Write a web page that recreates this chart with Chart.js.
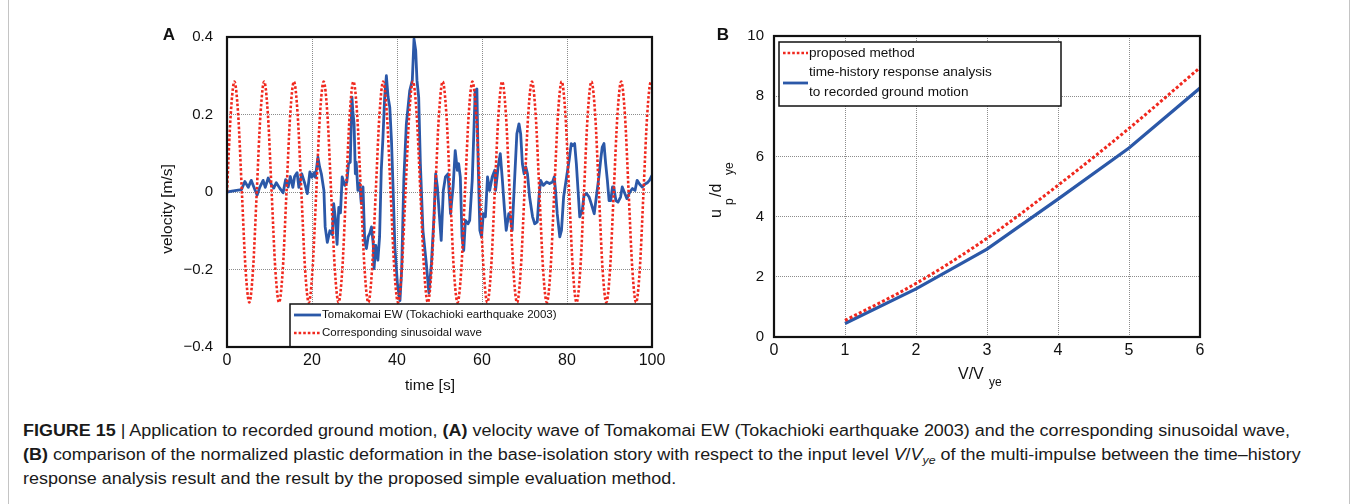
<!DOCTYPE html>
<html>
<head>
<meta charset="utf-8">
<script src="https://cdn.jsdelivr.net/npm/chart.js@4.4.1/dist/chart.umd.min.js"></script>
<style>
  body { margin: 0; background: #fff; width: 1357px; height: 504px; overflow: hidden; position: relative;
         font-family: 'Liberation Sans', Arial, sans-serif; }
  #frame { position: absolute; left: 8px; top: -20px; width: 1340px; height: 600px; border: 1px solid #c4c4c4; border-radius: 6px; }
  #chartA { position: absolute; left: 140px; top: 20px; }
  #chartB { position: absolute; left: 700px; top: 20px; }
  #caption { position: absolute; left: 23px; top: 419px; font-size: 16px; line-height: 24px; color: #1a1a1a;
             white-space: nowrap; transform-origin: 0 0; }
  #caption sub { font-size: 11px; line-height: 0; }
</style>
</head>
<body>
<div id="frame"></div>
<canvas id="chartA" width="525" height="380"></canvas>
<canvas id="chartB" width="520" height="380"></canvas>
<div id="caption">
  <div id="capLine1"><b>FIGURE 15</b> | Application to recorded ground motion, <b>(A)</b> velocity wave of Tomakomai EW (Tokachioki earthquake 2003) and the corresponding sinusoidal wave,</div>
  <div><b>(B)</b> comparison of the normalized plastic deformation in the base-isolation story with respect to the input level <i>V</i>/<i>V<sub>ye</sub></i> of the multi-impulse between the time–history</div>
  <div>response analysis result and the result by the proposed simple evaluation method.</div>
</div>
<script>
// Tomakomai EW velocity record, time [s] / velocity [m/s]
const recTime = [
  0, 1.5, 3.4, 4.2, 5.0, 5.7, 6.5, 7.1, 7.7, 8.5, 9.0, 9.7, 10.4, 11.0, 11.6, 12.4, 13.2, 13.8, 14.4, 14.9,
  15.5, 15.9, 16.5, 16.9, 17.6, 18.3, 18.9, 19.5, 20.0, 20.5, 20.8, 21.4, 21.8, 22.2, 22.8, 23.1, 23.6, 24.2,
  24.8, 25.1, 25.5, 25.9, 26.3, 26.7, 27.1, 27.7, 28.2, 28.6, 29.0, 29.4, 29.6, 29.9, 30.2, 30.4, 30.8, 31.2,
  31.6, 32.0, 32.4, 32.8, 33.2, 33.6, 34.0, 34.4, 34.6, 35.0, 35.5, 35.9, 36.3, 36.7, 37.1, 37.5, 37.9, 38.3,
  38.7, 39.1, 39.5, 40.1, 40.7, 41.1, 41.6, 42.2, 43.0, 43.6, 44.0, 44.4, 44.7, 45.1, 45.5, 46.1, 46.9, 47.5,
  48.1, 48.7, 49.1, 49.5, 50.0, 50.4, 50.9, 51.4, 52.0, 52.6, 53.2, 53.7, 54.2, 54.5, 54.9, 55.3, 55.7, 56.1,
  56.7, 57.1, 57.7, 58.1, 58.4, 58.8, 59.1, 59.5, 59.9, 60.3, 60.8, 61.3, 61.8, 62.4, 63.0, 63.2, 63.8, 64.3,
  64.8, 65.3, 65.7, 66.3, 66.7, 67.1, 67.7, 68.2, 68.7, 69.1, 69.5, 69.9, 70.3, 70.7, 71.2, 71.9, 72.4, 73.0,
  73.4, 73.8, 74.4, 75.2, 75.9, 76.6, 77.0, 77.3, 77.7, 78.3, 78.7, 79.2, 79.9, 80.5, 81.0, 81.4, 81.8, 82.2,
  82.6, 83.0, 83.6, 84.0, 84.6, 85.2, 85.7, 86.4, 86.9, 87.5, 88.0, 88.3, 88.7, 89.1, 89.5, 89.9, 90.3, 90.7,
  91.0, 91.5, 92.0, 92.6, 93.0, 93.6, 94.1, 94.8, 95.4, 96.0, 96.5, 97.1, 97.7, 98.3, 98.9, 99.4, 100
];
const recVel = [
  0, 0.003, 0.006, 0.027, 0.012, 0.03, 0.008, -0.008, 0.012, 0.03, 0.012, 0.036, 0.02, 0.01, 0.024, 0.01, -0.002, 0.032, 0.013, 0.04,
  0.012, 0.04, 0.05, 0.012, 0.047, 0.022, -0.004, 0.052, 0.038, 0.05, 0.038, 0.09, 0.064, 0.047, 0.004, -0.09, -0.13, -0.1,
  -0.11, -0.03, -0.068, -0.135, -0.04, -0.054, 0.039, 0.017, 0.026, 0.073, 0.077, 0.245, 0.21, 0.176, 0.047, 0.077, 0.004, 0.022,
  -0.03, 0.013, -0.125, -0.146, -0.116, -0.107, -0.09, -0.133, -0.198, -0.138, -0.176, -0.116, 0.056, 0.142, 0.245, 0.3, 0.245, 0.219,
  0.133, 0.004, -0.142, -0.237, -0.28, -0.2, 0.03, 0.176, 0.262, 0.288, 0.395, 0.365, 0.288, 0.245, 0.073, -0.099, -0.185, -0.26,
  -0.185, -0.064, 0.047, 0.013, -0.064, -0.125, 0.004, 0.039, 0.047, -0.056, 0.013, 0.107, 0.056, 0.073, 0.039, -0.116, -0.151, -0.073,
  -0.082, -0.073, 0.03, 0.159, 0.262, 0.266, 0.073, -0.099, -0.116, -0.056, -0.064, 0.039, 0.004, 0.039, 0.056, 0.004, 0.065, 0.099,
  0.03, -0.047, -0.099, -0.056, -0.064, -0.099, 0.039, 0.15, 0.176, 0.15, 0.073, 0.047, 0.065, 0.047, -0.013, -0.064, -0.082, -0.077,
  -0.013, 0.03, 0.017, 0.026, 0.022, 0.026, 0.039, 0.004, -0.056, -0.116, -0.099, -0.013, 0.039, 0.082, 0.125, 0.12, 0.125, 0.073,
  0.004, -0.064, -0.047, -0.009, -0.004, -0.013, -0.03, -0.056, -0.013, 0.039, 0.09, 0.116, 0.125, 0.073, 0.03, -0.022, -0.022, 0.013,
  0.013, -0.022, -0.026, -0.013, 0.013, -0.004, -0.017, 0, 0.009, 0.004, 0.03, 0.02, 0.013, 0.02, 0.024, 0.03, 0.043
];

// corresponding sinusoidal wave, read every eighth of a cycle
const sineTime = [
  0, 0.875, 1.75, 2.625, 3.5, 4.375, 5.25, 6.125,
  7, 7.875, 8.75, 9.625, 10.5, 11.375, 12.25, 13.125,
  14, 14.875, 15.75, 16.625, 17.5, 18.375, 19.25, 20.125,
  21, 21.875, 22.75, 23.625, 24.5, 25.375, 26.25, 27.125,
  28, 28.875, 29.75, 30.625, 31.5, 32.375, 33.25, 34.125,
  35, 35.875, 36.75, 37.625, 38.5, 39.375, 40.25, 41.125,
  42, 42.875, 43.75, 44.625, 45.5, 46.375, 47.25, 48.125,
  49, 49.875, 50.75, 51.625, 52.5, 53.375, 54.25, 55.125,
  56, 56.875, 57.75, 58.625, 59.5, 60.375, 61.25, 62.125,
  63, 63.875, 64.75, 65.625, 66.5, 67.375, 68.25, 69.125,
  70, 70.875, 71.75, 72.625, 73.5, 74.375, 75.25, 76.125,
  77, 77.875, 78.75, 79.625, 80.5, 81.375, 82.25, 83.125,
  84, 84.875, 85.75, 86.625, 87.5, 88.375, 89.25, 90.125,
  91, 91.875, 92.75, 93.625, 94.5, 95.375, 96.25, 97.125,
  98, 98.875, 99.75, 100
];
const sineVel = [
  0, 0.2, 0.285, 0.2, 0, -0.2, -0.285, -0.2,
  0, 0.2, 0.285, 0.2, 0, -0.2, -0.285, -0.2,
  0, 0.2, 0.285, 0.2, 0, -0.2, -0.285, -0.2,
  0, 0.2, 0.285, 0.2, 0, -0.2, -0.285, -0.2,
  0, 0.2, 0.285, 0.2, 0, -0.2, -0.285, -0.2,
  0, 0.2, 0.285, 0.2, 0, -0.2, -0.285, -0.2,
  0, 0.2, 0.285, 0.2, 0, -0.2, -0.285, -0.2,
  0, 0.2, 0.285, 0.2, 0, -0.2, -0.285, -0.2,
  0, 0.2, 0.285, 0.2, 0, -0.2, -0.285, -0.2,
  0, 0.2, 0.285, 0.2, 0, -0.2, -0.285, -0.2,
  0, 0.2, 0.285, 0.2, 0, -0.2, -0.285, -0.2,
  0, 0.2, 0.285, 0.2, 0, -0.2, -0.285, -0.2,
  0, 0.2, 0.285, 0.2, 0, -0.2, -0.285, -0.2,
  0, 0.2, 0.285, 0.2, 0, -0.2, -0.285, -0.2,
  0, 0.2, 0.285, 0.278
];

// normalized plastic deformation u_p/d_ye against input level V/V_ye
const inputLevel = [1, 2, 3, 4, 5, 6];
const proposedDef = [0.55, 1.78, 3.28, 5.04, 6.93, 8.95];
const analysisDef = [0.45, 1.6, 2.92, 4.58, 6.28, 8.27];

const legendA = ['Tomakomai EW (Tokachioki earthquake 2003)', 'Corresponding sinusoidal wave'];
const legendB = ['proposed method', 'time-history response analysis', 'to recorded ground motion'];

const FONT = "'Liberation Sans', Arial, sans-serif";
const RED = '#f0281e';
const BLUE = '#2b58a8';
const GRID = '#8c8c8c';

function toPoints(xs, ys) {
  return xs.map((x, i) => ({ x: x, y: ys[i] }));
}

function minusFmt(v) {
  if (Math.abs(v) < 1e-9) return '0';
  return (v < 0 ? '\u2212' : '') + Math.abs(v).toFixed(1);
}

// inner grid only, the frame is drawn by the plugin
function gridColor(lo, hi) {
  return ctx => (Math.abs(ctx.tick.value - lo) < 1e-9 || Math.abs(ctx.tick.value - hi) < 1e-9) ? 'rgba(0,0,0,0)' : GRID;
}

// fixed axis size and no extra room for overhanging labels,
// so the plot area is set by the layout padding alone
function fixedFit(prop, size) {
  return s => {
    s[prop] = size;
    s.paddingTop = s.paddingBottom = s.paddingLeft = s.paddingRight = 0;
  };
}

function scaleOpts(min, max, step, pad, size, fit, fmt) {
  return {
    type: 'linear', min: min, max: max,
    ticks: { stepSize: step, padding: pad, color: '#111', font: { family: FONT, size: size }, maxRotation: 0,
             callback: fmt || (v => String(v)) },
    grid: { color: gridColor(min, max), lineWidth: 1, drawTicks: false },
    border: { display: false, dash: [1, 1] },
    afterFit: fit
  };
}

function lineSample(ctx, x0, x1, y, color, dotted) {
  ctx.save();
  ctx.strokeStyle = color;
  ctx.lineWidth = dotted ? 2.6 : 2.8;
  ctx.setLineDash(dotted ? [2.6, 2] : []);
  ctx.beginPath();
  ctx.moveTo(x0, y);
  ctx.lineTo(x1, y);
  ctx.stroke();
  ctx.restore();
}

// frame, legend box and axis titles
function decorPlugin(drawExtras) {
  return {
    id: 'decor',
    afterDatasetsDraw(chart) {
      const ctx = chart.ctx, a = chart.chartArea;
      ctx.save();
      drawExtras(ctx, a);
      ctx.strokeStyle = '#111';
      ctx.lineWidth = 2.2;
      ctx.strokeRect(a.left, a.top, a.right - a.left, a.bottom - a.top);
      ctx.restore();
    }
  };
}

const chartA = new Chart(document.getElementById('chartA'), {
  type: 'line',
  data: {
    datasets: [{
      data: toPoints(sineTime, sineVel),
      borderColor: RED, borderWidth: 2.6, borderDash: [2.6, 2],
      pointRadius: 0, cubicInterpolationMode: 'monotone'
    }, {
      data: toPoints(recTime, recVel),
      borderColor: BLUE, borderWidth: 2.8, pointRadius: 0, tension: 0,
      borderJoinStyle: 'round'
    }]
  },
  options: {
    responsive: false, animation: false, events: [],
    layout: { padding: { top: 17, right: 13, left: 0, bottom: 0 } },
    scales: {
      x: scaleOpts(0, 100, 20, 4, 16, fixedFit('height', 53)),
      y: scaleOpts(-0.4, 0.4, 0.2, 14, 15, fixedFit('width', 87), minusFmt)
    },
    plugins: { legend: { display: false }, tooltip: { enabled: false } }
  },
  plugins: [decorPlugin((ctx, a) => {
    // legend box in the lower right corner
    const bx = 150, by = 284;
    ctx.fillStyle = '#fff';
    ctx.fillRect(bx, by, a.right - bx, a.bottom - by);
    ctx.strokeStyle = '#111';
    ctx.lineWidth = 1.5;
    ctx.strokeRect(bx, by, a.right - bx, a.bottom - by);
    lineSample(ctx, 154, 181, 295, BLUE, false);
    lineSample(ctx, 154, 181, 313, RED, true);
    ctx.fillStyle = '#111';
    ctx.font = '11.5px ' + FONT;
    ctx.textBaseline = 'middle';
    ctx.textAlign = 'left';
    ctx.fillText(legendA[0], 182, 295);
    ctx.fillText(legendA[1], 182, 313);

    ctx.font = 'bold 17px ' + FONT;
    ctx.textAlign = 'center';
    ctx.fillText('A', 29, 15);

    ctx.font = '15.5px ' + FONT;
    ctx.fillText('time [s]', 290, 366);
    ctx.save();
    ctx.translate(28, 189);
    ctx.rotate(-Math.PI / 2);
    ctx.fillText('velocity [m/s]', 0, 0);
    ctx.restore();
  })]
});

const chartB = new Chart(document.getElementById('chartB'), {
  type: 'line',
  data: {
    datasets: [{
      data: toPoints(inputLevel, proposedDef),
      borderColor: RED, borderWidth: 3, borderDash: [3, 2.2],
      pointRadius: 0, cubicInterpolationMode: 'monotone'
    }, {
      data: toPoints(inputLevel, analysisDef),
      borderColor: BLUE, borderWidth: 3.2, pointRadius: 0, tension: 0
    }]
  },
  options: {
    responsive: false, animation: false, events: [],
    layout: { padding: { top: 16, right: 20, left: 0, bottom: 0 } },
    scales: {
      x: scaleOpts(0, 6, 1, 4, 16, fixedFit('height', 63)),
      y: scaleOpts(0, 10, 2, 10, 15, fixedFit('width', 74))
    },
    plugins: { legend: { display: false }, tooltip: { enabled: false } }
  },
  plugins: [decorPlugin((ctx, a) => {
    const bx = 79, by = 22, bw = 282, bh = 64;
    ctx.fillStyle = '#fff';
    ctx.fillRect(bx, by, bw, bh);
    ctx.strokeStyle = '#111';
    ctx.lineWidth = 1.5;
    ctx.strokeRect(bx, by, bw, bh);
    lineSample(ctx, 83, 108, 33, RED, true);
    lineSample(ctx, 83, 108, 63, BLUE, false);
    ctx.fillStyle = '#111';
    ctx.font = '13.6px ' + FONT;
    ctx.textBaseline = 'middle';
    ctx.textAlign = 'left';
    ctx.fillText(legendB[0], 109, 33);
    ctx.fillText(legendB[1], 109, 52);
    ctx.fillText(legendB[2], 109, 72);

    ctx.font = 'bold 17px ' + FONT;
    ctx.textAlign = 'center';
    ctx.fillText('B', 23, 15);

    // V/V_ye
    ctx.textAlign = 'left';
    ctx.font = '16px ' + FONT;
    ctx.fillText('V/V', 258, 355);
    ctx.font = '12px ' + FONT;
    ctx.fillText('ye', 289, 363);

    // u_p/d_ye, rotated
    ctx.save();
    ctx.translate(21, 198);
    ctx.rotate(-Math.PI / 2);
    ctx.textBaseline = 'alphabetic';
    ctx.font = '16px ' + FONT;
    ctx.fillText('u', 0, 0);
    ctx.fillText('/d', 21, 0);
    ctx.font = '12px ' + FONT;
    ctx.fillText('p', 13, 12);
    ctx.fillText('ye', 43, 12);
    ctx.restore();
  })]
});

// stretch the caption so the first line spans the same width as the figure text block
const cap = document.getElementById('caption');
const line1 = document.getElementById('capLine1');
const range = document.createRange();
range.selectNodeContents(line1);
const w = range.getBoundingClientRect().width;
cap.style.transform = 'scaleX(' + (1267 / w).toFixed(4) + ')';
</script>
</body>
</html>
